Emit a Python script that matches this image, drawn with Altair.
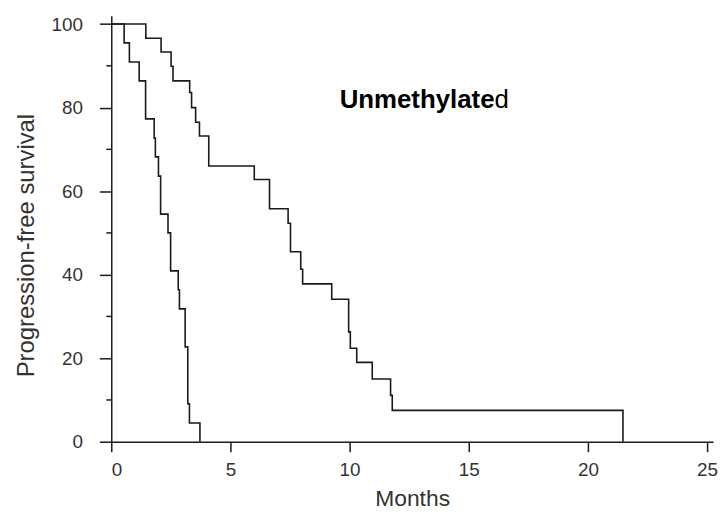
import altair as alt
import pandas as pd

# Kaplan-Meier style step curves
left_months = [0, 0.54, 0.76, 1.17, 1.44, 1.80, 1.85, 1.98, 2.07, 2.38, 2.49, 2.81, 2.86, 3.10, 3.21, 3.28, 3.72]
left_pfs = [100, 95.5, 90.9, 86.4, 77.3, 72.7, 68.2, 63.6, 54.5, 50.0, 40.9, 36.4, 31.8, 22.7, 9.1, 4.5, 0]

right_months = [0, 1.45, 2.09, 2.51, 2.59, 3.29, 3.37, 3.54, 3.70, 4.09, 6.00, 6.64, 7.42, 7.52,
                7.95, 8.03, 9.25, 9.96, 10.03, 10.30, 10.95, 11.72, 11.79, 21.47]
right_pfs = [100, 96.6, 93.3, 89.9, 86.4, 83.6, 80.0, 76.5, 73.2, 66.0, 62.8, 55.8, 52.3, 45.5,
             41.3, 37.8, 34.1, 26.3, 22.4, 19.0, 15.0, 11.1, 7.5, 0]

x_ticks = [0, 5, 10, 15, 20, 25]
y_ticks = [0, 20, 40, 60, 80, 100]
y_minor_ticks = [10, 30, 50, 70, 90]

label_bold = "Unmethylate"
label_regular = "d"
label_month = 16.08
label_pfs = 79.8

df = pd.concat([
    pd.DataFrame({"Months": left_months, "PFS": left_pfs, "curve": "A"}),
    pd.DataFrame({"Months": right_months, "PFS": right_pfs, "curve": "B"}),
], ignore_index=True)

txt = pd.DataFrame({"Months": [label_month], "PFS": [label_pfs],
                    "bold": [label_bold], "reg": [label_regular]})
minor = pd.DataFrame({"PFS": y_minor_ticks})

FONT = "Liberation Sans"
INK = "#1a1a1a"
TXT = "#333333"

x_scale = alt.Scale(domain=[0, 25.25], nice=False, zero=False)
y_scale = alt.Scale(domain=[0, 102], nice=False, zero=False)

x_axis = alt.Axis(
    values=x_ticks, title="Months", grid=False,
    tickSize=10, tickWidth=1.5, tickColor=INK,
    domainColor=INK, domainWidth=1.5,
    labelFont=FONT, labelFontSize=19, labelColor=TXT, labelPadding=9,
    titleFont=FONT, titleFontSize=23, titleFontWeight="normal", titleColor=TXT,
    titleY=64, titleBaseline="alphabetic",
)
y_axis = alt.Axis(
    values=y_ticks, title="Progression-free survival", grid=False,
    tickSize=12, tickWidth=1.5, tickColor=INK,
    domainColor=INK, domainWidth=1.5,
    labelFont=FONT, labelFontSize=19, labelColor=TXT, labelPadding=17,
    titleFont=FONT, titleFontSize=24, titleFontWeight="normal", titleColor=TXT,
    titleX=-85, titleY=231, titleBaseline="middle", titleAngle=270,
)

lines = alt.Chart(df).mark_line(interpolate="step-after", color=INK, strokeWidth=1.6).encode(
    x=alt.X("Months:Q", scale=x_scale, axis=x_axis),
    y=alt.Y("PFS:Q", scale=y_scale, axis=y_axis),
    detail="curve:N",
)

minor_ticks = alt.Chart(minor).mark_rule(color=INK, strokeWidth=1.5).encode(
    y=alt.Y("PFS:Q", scale=y_scale, axis=y_axis),
    x=alt.value(-5),
    x2=alt.value(0),
)

t_bold = alt.Chart(txt).mark_text(
    align="right", baseline="alphabetic", font=FONT, fontSize=26, fontWeight="bold", color="#000000"
).encode(x=alt.X("Months:Q", scale=x_scale, axis=x_axis),
         y=alt.Y("PFS:Q", scale=y_scale, axis=y_axis), text="bold:N")

t_reg = alt.Chart(txt).mark_text(
    align="left", baseline="alphabetic", font=FONT, fontSize=26, fontWeight="normal", color="#000000"
).encode(x=alt.X("Months:Q", scale=x_scale, axis=x_axis),
         y=alt.Y("PFS:Q", scale=y_scale, axis=y_axis), text="reg:N")

chart = alt.layer(lines, minor_ticks, t_bold, t_reg).properties(
    width=606, height=429,
    autosize=alt.AutoSizeParams(type="none"),
    padding={"left": 104, "top": 6, "right": 6, "bottom": 70},
    background="white",
).configure_view(stroke=None)

chart.save("out.html", embed_options={"renderer": "svg", "actions": False})
